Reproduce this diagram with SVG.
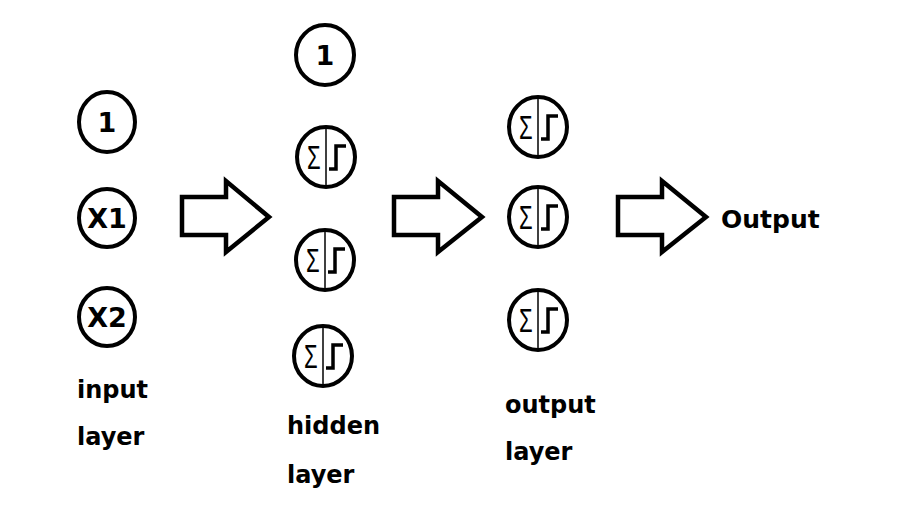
<svg xmlns="http://www.w3.org/2000/svg" width="906" height="509" viewBox="0 0 906 509">
<style>
.c{fill:#fff;stroke:#000;stroke-width:4}
.t{font-family:"DejaVu Sans",sans-serif;font-weight:bold;fill:#000}
.n{font-size:27px;text-anchor:middle}
.lbl{font-size:24px}
.sig{font-family:"Liberation Sans",sans-serif;font-size:34px;fill:#000}
.v{stroke:#000;stroke-width:1.5}
.st{fill:none;stroke:#000;stroke-width:3.5}
.ar{fill:#fff;stroke:#000;stroke-width:4.5;stroke-linejoin:miter}
</style>
<defs>
<g id="sum">
<ellipse class="c" cx="0" cy="0" rx="29" ry="30"/>
<line class="v" x1="0" y1="-30" x2="0" y2="30"/>
<text class="sig" transform="translate(-19,12) scale(0.65,1)">Σ</text>
<path class="st" d="M3 12 H10 V-11 H20"/>
</g>
</defs>
<rect width="906" height="509" fill="#fff"/>
<g id="input-1"><ellipse class="c" cx="107" cy="122" rx="28" ry="30"/><text class="t n" x="107" y="132">1</text></g>
<g id="input-x1"><ellipse class="c" cx="107" cy="218" rx="28" ry="29"/><text class="t n" x="107" y="228">X1</text></g>
<g id="input-x2"><ellipse class="c" cx="107" cy="317" rx="28" ry="29"/><text class="t n" x="107" y="327">X2</text></g>
<g id="input-label"><text class="t lbl" x="77" y="398">input</text><text class="t lbl" x="77" y="445">layer</text></g>
<g id="hidden-1"><ellipse class="c" cx="325" cy="55" rx="29" ry="30"/><text class="t n" x="325" y="65">1</text></g>
<g id="hidden-a"><use href="#sum" x="326" y="157"/></g>
<g id="hidden-b"><use href="#sum" x="325" y="260"/></g>
<g id="hidden-c"><use href="#sum" x="323" y="356"/></g>
<g id="hidden-label"><text class="t lbl" x="287" y="434">hidden</text><text class="t lbl" x="287" y="483">layer</text></g>
<g id="out-a"><use href="#sum" x="538" y="127"/></g>
<g id="out-b"><use href="#sum" x="538" y="217"/></g>
<g id="out-c"><use href="#sum" x="538" y="320"/></g>
<g id="output-label"><text class="t lbl" x="505" y="413">output</text><text class="t lbl" x="505" y="460">layer</text></g>
<g id="connectors">
<path class="ar" d="M182 197 H226 V181 L269 217 L226 252 V235 H182 Z"/>
<path class="ar" d="M394 197 H438 V181 L482 217 L438 252 V235 H394 Z"/>
<path class="ar" d="M618 197 H662 V181 L706 217 L662 252 V235 H618 Z"/>
</g>
<g id="output"><text class="t" x="721" y="228" font-size="25">Output</text></g>
</svg>
